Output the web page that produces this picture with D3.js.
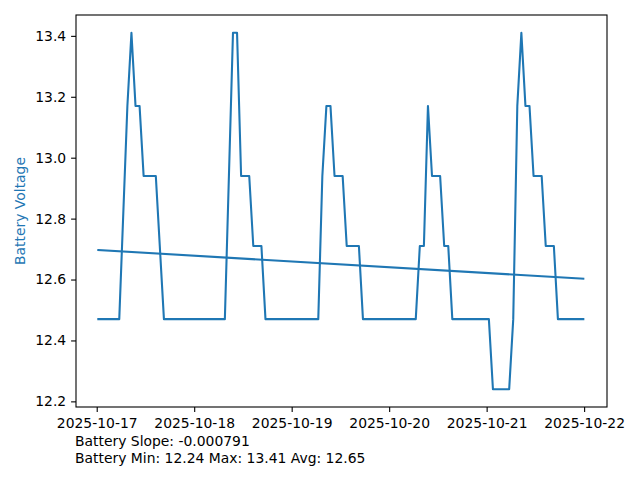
<!DOCTYPE html>
<html>
<head>
<meta charset="utf-8">
<script src="https://cdn.jsdelivr.net/npm/d3@7"></script>
<style>
  html, body { margin: 0; padding: 0; background: #fff; }
  svg { display: block; }
  text { font-family: "DejaVu Sans", sans-serif; }
</style>
</head>
<body>
<svg id="chart" width="640" height="480"></svg>
<script>
// ---- data ----
const times = [
  "2025-10-17 00:24", "2025-10-17 05:33", "2025-10-17 07:33", "2025-10-17 08:33",
  "2025-10-17 09:33", "2025-10-17 10:33", "2025-10-17 11:33", "2025-10-17 14:33",
  "2025-10-17 16:33",
  "2025-10-18 07:33", "2025-10-18 09:33", "2025-10-18 10:33", "2025-10-18 11:33",
  "2025-10-18 13:33", "2025-10-18 14:33", "2025-10-18 16:33", "2025-10-18 17:33",
  "2025-10-19 06:33", "2025-10-19 07:33", "2025-10-19 08:33", "2025-10-19 09:33",
  "2025-10-19 10:33", "2025-10-19 12:33", "2025-10-19 13:33", "2025-10-19 16:33",
  "2025-10-19 17:33",
  "2025-10-20 06:33", "2025-10-20 07:33", "2025-10-20 08:33", "2025-10-20 09:33",
  "2025-10-20 10:33", "2025-10-20 12:33", "2025-10-20 13:33", "2025-10-20 14:33",
  "2025-10-20 15:33",
  "2025-10-21 00:33", "2025-10-21 01:33", "2025-10-21 05:33", "2025-10-21 06:33",
  "2025-10-21 07:33", "2025-10-21 08:33", "2025-10-21 09:33", "2025-10-21 10:33",
  "2025-10-21 11:33", "2025-10-21 13:33", "2025-10-21 14:33", "2025-10-21 16:33",
  "2025-10-21 17:33", "2025-10-21 23:48"
];
const voltages = [
  12.47, 12.47, 13.17, 13.41,
  13.17, 13.17, 12.94, 12.94,
  12.47,
  12.47, 13.41, 13.41, 12.94,
  12.94, 12.71, 12.71, 12.47,
  12.47, 12.94, 13.17, 13.17,
  12.94, 12.94, 12.71, 12.71,
  12.47,
  12.47, 12.71, 12.71, 13.17,
  12.94, 12.94, 12.71, 12.71,
  12.47,
  12.47, 12.24, 12.24, 12.47,
  13.17, 13.41, 13.17, 13.17,
  12.94, 12.94, 12.71, 12.71,
  12.47, 12.47
];
const trendSlopePerHour = -0.000791;
const trendStart = 12.697;
const yTicks = [12.2, 12.4, 12.6, 12.8, 13.0, 13.2, 13.4];
const xTickDates = ["2025-10-17", "2025-10-18", "2025-10-19", "2025-10-20", "2025-10-21", "2025-10-22"];
const xDomain = ["2025-10-16 18:54", "2025-10-22 05:38"];
const yDomain = [12.1815, 13.4685];
const statsLines = [
  "Battery Slope: -0.000791",
  "Battery Min: 12.24 Max: 13.41 Avg: 12.65"
];
const yLabel = "Battery Voltage";

// ---- drawing ----
const parseT = d3.utcParse("%Y-%m-%d %H:%M");
const parseD = d3.utcParse("%Y-%m-%d");
const fmtD = d3.utcFormat("%Y-%m-%d");
const blue = "#1f77b4";
const fontSize = 13.9;

const mLeft = 76, mRight = 607, mTop = 15, mBottom = 407;
const svg = d3.select("#chart");

const x = d3.scaleUtc().domain(xDomain.map(parseT)).range([mLeft, mRight]);
const y = d3.scaleLinear().domain(yDomain).range([mBottom, mTop]);

const data = times.map((t, i) => ({ t: parseT(t), v: voltages[i] }));

const t0 = data[0].t, t1 = data[data.length - 1].t;
const hrs = d => (d - t0) / 3600000;
const trend = [t0, t1].map(t => ({ t, v: trendStart + trendSlopePerHour * hrs(t) }));

const line = d3.line().x(d => x(d.t)).y(d => y(d.v));

svg.append("path").datum(data)
  .attr("d", line).attr("fill", "none")
  .attr("stroke", blue).attr("stroke-width", 2.08)
  .attr("stroke-linejoin", "round").attr("stroke-linecap", "square");

svg.append("path").datum(trend)
  .attr("d", line).attr("fill", "none")
  .attr("stroke", blue).attr("stroke-width", 2.08)
  .attr("stroke-linecap", "square");

// axes
const xAxis = d3.axisBottom(x)
  .tickValues(xTickDates.map(parseD))
  .tickFormat(fmtD)
  .tickSize(4.9).tickPadding(4.9);
const gx = svg.append("g").attr("transform", `translate(0,${mBottom})`).call(xAxis);
gx.select(".domain").remove();
gx.selectAll(".tick line").attr("stroke", "#000").attr("stroke-width", 1.1);
gx.selectAll(".tick text").attr("font-size", fontSize).attr("fill", "#000")
  .attr("font-family", "DejaVu Sans").attr("dy", "0.78em");

const yAxis = d3.axisLeft(y)
  .tickValues(yTicks)
  .tickFormat(d3.format(".1f"))
  .tickSize(4.9).tickPadding(4.9);
const gy = svg.append("g").attr("transform", `translate(${mLeft},0)`).call(yAxis);
gy.select(".domain").remove();
gy.selectAll(".tick line").attr("stroke", "#000").attr("stroke-width", 1.1);
gy.selectAll(".tick text").attr("font-size", fontSize).attr("fill", "#000")
  .attr("font-family", "DejaVu Sans");

// frame
svg.append("rect")
  .attr("x", mLeft).attr("y", mTop)
  .attr("width", mRight - mLeft).attr("height", mBottom - mTop)
  .attr("fill", "none").attr("stroke", "#000").attr("stroke-width", 1.1);

// y label
svg.append("text")
  .attr("transform", `translate(25,${(mTop + mBottom) / 2}) rotate(-90)`)
  .attr("text-anchor", "middle")
  .attr("font-size", fontSize)
  .attr("fill", blue)
  .text(yLabel);

// stats text
svg.selectAll("text.stats").data(statsLines).enter().append("text")
  .attr("class", "stats")
  .attr("x", 75)
  .attr("y", (d, i) => 446 + i * 16.5)
  .attr("font-size", fontSize)
  .attr("fill", "#000")
  .text(d => d);
</script>
</body>
</html>
